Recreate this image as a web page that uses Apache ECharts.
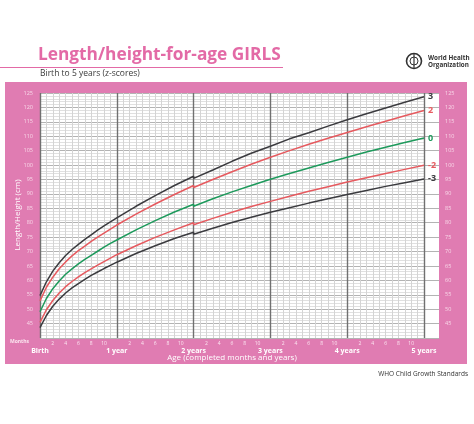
<!DOCTYPE html>
<html>
<head>
<meta charset="utf-8">
<script src="https://cdn.jsdelivr.net/npm/echarts@6/dist/echarts.min.js"></script>
<style>html,body{margin:0;padding:0;background:#fff}#c{width:474px;height:424px}</style>
</head>
<body>
<div id="c"></div>
<script>
// Age in completed months (24 appears twice: length -> height switch)
var months = [0,1,2,3,4,5,6,7,8,9,10,11,12,15,18,21,24,24,27,30,33,36,39,42,45,48,51,54,57,60];
var zNeg3 = [43.6,47.8,51.0,53.5,55.6,57.4,58.9,60.3,61.7,62.9,64.1,65.2,66.3,69.3,72.0,74.5,76.7,76.0,78.1,80.1,81.9,83.6,85.2,86.8,88.3,89.8,91.2,92.6,93.9,95.2];
var zNeg2 = [45.4,49.8,53.0,55.6,57.8,59.6,61.2,62.7,64.0,65.3,66.5,67.7,68.9,72.0,74.9,77.5,80.0,79.3,81.5,83.6,85.6,87.4,89.2,90.9,92.5,94.1,95.6,97.1,98.5,99.9];
var zZero = [49.1,53.7,57.1,59.8,62.1,64.0,65.7,67.3,68.7,70.1,71.5,72.8,74.0,77.5,80.7,83.7,86.4,85.7,88.3,90.7,92.9,95.1,97.1,99.0,100.9,102.7,104.5,106.2,107.8,109.4];
var zPos2 = [52.9,57.6,61.1,64.0,66.4,68.5,70.3,71.9,73.5,75.0,76.4,77.8,79.2,83.0,86.5,89.8,92.9,92.2,95.0,97.7,100.3,102.7,105.0,107.2,109.3,111.3,113.3,115.2,117.1,118.9];
var zPos3 = [54.7,59.5,63.2,66.1,68.6,70.7,72.5,74.2,75.8,77.4,78.9,80.3,81.7,85.7,89.4,92.9,96.1,95.4,98.3,101.3,104.1,106.5,109.1,111.2,113.5,115.7,117.8,119.8,121.8,123.7];
var yearLabels = ['Birth','1 year','2 years','3 years','4 years','5 years'];
var seriesNames = ['3','2','0','-2','-3'];

var PINK = '#e07cb2';
var FONT = 'Open Sans';

function pairs(vals){ return months.map(function(m,i){ return [m, vals[i]]; }); }
function mkSeries(name, vals, color){
  return {
    type:'line', name:name, xAxisIndex:0, yAxisIndex:2, data:pairs(vals),
    showSymbol:false, symbol:'none', smooth:false, z:5,
    lineStyle:{color:color, width:1.5},
    endLabel:{show:true, formatter:name, color:color, fontSize:9, fontWeight:'bold', distance:4, fontFamily:FONT}
  };
}
var DARK='#3b3b3f', RED='#e65a5f', GREEN='#1e9a5c';

var chart = echarts.init(document.getElementById('c'), null, {renderer:'canvas'});
chart.setOption({
  animation:false,
  textStyle:{fontFamily:FONT},
  grid:[
    {left:40, right:35, top:93, bottom:86},
    {left:40, right:50, top:93, bottom:86}
  ],
  xAxis:[
    {gridIndex:1, type:'value', min:0, max:60, interval:1, position:'bottom',
     axisLine:{show:false}, axisTick:{show:false},
     axisLabel:{margin:3, fontSize:5, color:'#fbe6f0',
       formatter:function(v){ return (v%12!==0 && v%2===0) ? String(v%12) : ''; }},
     splitLine:{show:true, lineStyle:{color:'#d4d4d4', width:1}}},
    {gridIndex:1, type:'value', min:0, max:60, interval:12, position:'bottom',
     axisLine:{show:false}, axisTick:{show:false},
     axisLabel:{margin:9, fontSize:7, fontWeight:'bold', color:'#ffffff',
       formatter:function(v){ return yearLabels[Math.round(v/12)]; }},
     splitLine:{show:true, lineStyle:{color:'#707070', width:1.4}}},
    {gridIndex:0, type:'value', min:0, max:1, show:false}
  ],
  yAxis:[
    {gridIndex:0, type:'value', min:40, max:125, interval:5, position:'left',
     axisLine:{show:false}, axisTick:{show:false},
     axisLabel:{margin:7, fontSize:5.5, color:'#f8d8e8', formatter:function(v){return v===40?'':String(v);}},
     splitLine:{show:true, lineStyle:{color:'#b3b3b3', width:1}}},
    {gridIndex:0, type:'value', min:40, max:125, interval:5, position:'right',
     axisLine:{show:false}, axisTick:{show:false},
     axisLabel:{margin:6, fontSize:5.5, color:'#f8d8e8', formatter:function(v){return v===40?'':String(v);}},
     splitLine:{show:false}},
    {gridIndex:1, type:'value', min:40, max:125, interval:1,
     axisLine:{show:false}, axisTick:{show:false}, axisLabel:{show:false},
     splitLine:{show:true, lineStyle:{color:['#b3b3b3','#e0e0e0','#e0e0e0','#e0e0e0','#e0e0e0'], width:1}}}
  ],
  series:[
    mkSeries(seriesNames[0], zPos3, DARK),
    mkSeries(seriesNames[1], zPos2, RED),
    mkSeries(seriesNames[2], zZero, GREEN),
    mkSeries(seriesNames[3], zNeg2, RED),
    mkSeries(seriesNames[4], zNeg3, DARK)
  ],
  graphic:{elements:[
    {type:'rect', z:-2, shape:{x:5, y:82, width:462, height:282}, style:{fill:PINK}},
    {type:'rect', z:-1, shape:{x:40, y:93, width:399, height:245}, style:{fill:'#ffffff'}},
    {type:'text', z:10, x:38, y:55, style:{text:'Length/height-for-age GIRLS', font:'bold 17.3px "Open Sans"', fill:'#e36aa6', textVerticalAlign:'middle'}},
    {type:'line', z:10, shape:{x1:0, y1:67.5, x2:283, y2:67.5}, style:{stroke:'#e36aa6', lineWidth:1}},
    {type:'text', z:10, x:40, y:74, style:{text:'Birth to 5 years (z-scores)', font:'8.5px "Open Sans"', fill:'#3a3a3a', textVerticalAlign:'middle'}},
    {type:'circle', z:10, shape:{cx:414, cy:61, r:7.5}, style:{fill:'none', stroke:'#333', lineWidth:1.6}},
    {type:'circle', z:10, shape:{cx:414, cy:61, r:4}, style:{fill:'none', stroke:'#333', lineWidth:1}},
    {type:'line', z:10, shape:{x1:414, y1:54, x2:414, y2:68}, style:{stroke:'#333', lineWidth:1.2}},
    {type:'text', z:10, x:428, y:58, style:{text:'World Health', font:'bold 6.3px "Open Sans"', fill:'#333', textVerticalAlign:'middle'}},
    {type:'text', z:10, x:428, y:65, style:{text:'Organization', font:'bold 6.3px "Open Sans"', fill:'#333', textVerticalAlign:'middle'}},
    {type:'text', z:10, x:10, y:342, style:{text:'Months', font:'bold 5px "Open Sans"', fill:'#fbe6f0', textVerticalAlign:'middle'}},
    {type:'text', z:10, x:232, y:358, style:{text:'Age (completed months and years)', font:'8px "Open Sans"', fill:'#ffffff', textAlign:'center', textVerticalAlign:'middle'}},
    {type:'text', z:10, x:18, y:215, rotation:Math.PI/2, style:{text:'Length/Height (cm)', font:'8px "Open Sans"', fill:'#ffffff', textAlign:'center', textVerticalAlign:'middle'}},
    {type:'text', z:10, x:468, y:374, style:{text:'WHO Child Growth Standards', font:'6.5px "Open Sans"', fill:'#333', textAlign:'right', textVerticalAlign:'middle'}}
  ]}
});
</script>
</body>
</html>
